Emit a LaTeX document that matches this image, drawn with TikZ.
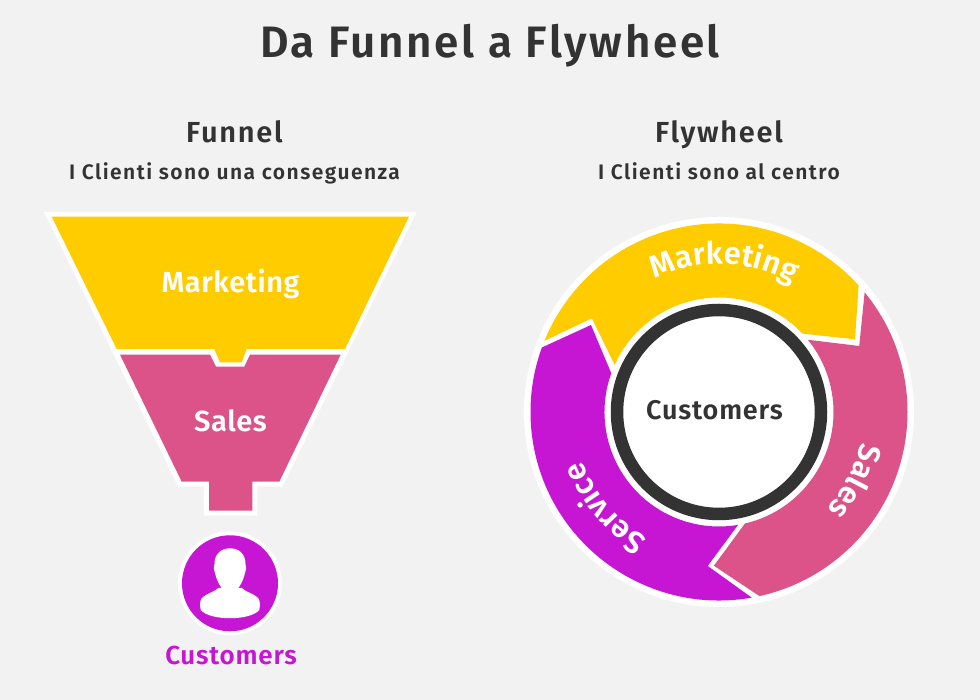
\documentclass[tikz,border=0pt]{standalone}
\usepackage{fontspec}
\setmainfont{Fira Sans}[BoldFont={Fira Sans SemiBold}]
\usetikzlibrary{decorations.text}

\definecolor{bgc}{HTML}{F2F2F2}
\definecolor{mktc}{HTML}{FFCC00}
\definecolor{salesc}{HTML}{DB5389}
\definecolor{servc}{HTML}{C616D3}
\definecolor{darkc}{HTML}{333333}

\begin{document}
\begin{tikzpicture}[
    x=1pt, y=1pt,
    % Styles
    heading/.style={ % Texts over the two pictures
        anchor=base,
        font=\bfseries\fontsize{29}{30}\selectfont\addfontfeature{LetterSpace=6},
        text=darkc
    },
    subheading/.style={ % Line under a heading
        anchor=base,
        font=\bfseries\fontsize{21}{24}\selectfont\addfontfeature{LetterSpace=7},
        text=darkc
    },
    label/.style={ % White text in the funnel
        anchor=base,
        font=\bfseries\fontsize{29}{32}\selectfont\addfontfeature{LetterSpace=2},
        text=white
    },
    arclabel/.style={ % White text along the wheel
        decorate,
        decoration={
            text along path,
            text align=center,
            text color=white,
            text={|\bfseries\fontsize{31}{32}\selectfont|#1}
        }
    }
]
    \useasboundingbox[fill=bgc] (0,0) rectangle (980,700);

    % Titles
    \node[anchor=base, font=\bfseries\fontsize{44}{48}\selectfont\addfontfeature{LetterSpace=6}, text=darkc] (title) at (490,642) {Da Funnel a Flywheel};
    \node[heading] (funnelhead) at (234.5,557) {Funnel};
    \node[subheading] (funnelsub) at (234.5,520) {I Clienti sono una conseguenza};
    \node[heading] (wheelhead) at (719,557) {Flywheel};
    \node[subheading] (wheelsub) at (719,520) {I Clienti sono al centro};

    % Funnel
    \fill[white] (44,488) -- (416.7,488) -- (282.3,213.3) -- (257.3,213.3) -- (257.3,184.3)
        -- (204,184.3) -- (204,213.3) -- (178.3,213.3) -- cycle;
    \fill[mktc] (51.7,483.3) -- (409,483.3) -- (345,351) -- (246.7,351) -- (241.7,337.7)
        -- (220,337.7) -- (214.3,351) -- (116.7,351) -- cycle;
    \fill[salesc] (120,345.3) -- (210,345.3) -- (216,333.3) -- (244.3,333.3) -- (250,345.3)
        -- (340.7,345.3) -- (279.3,218.3) -- (252.3,218.3) -- (252.3,189.3) -- (209,189.3)
        -- (209,218.3) -- (181.7,218.3) -- cycle;
    \node[label] (funnelmkt) at (230.5,407) {Marketing};
    \node[label] (funnelsales) at (230.5,268.3) {Sales};

    % Customer icon
    \fill[white] (230,116.7) circle (52);
    \fill[servc] (230,116.7) circle (48);
    \fill[white] (230,151.7) .. controls (240,151.7) and (245.5,145) .. (245.5,136)
        .. controls (246.5,133) and (246.5,130) .. (245,127)
        .. controls (243,118) and (237,106.7) .. (230,106.7)
        .. controls (223,106.7) and (217,118) .. (215,127)
        .. controls (213.5,130) and (213.5,133) .. (214.5,136)
        .. controls (214.5,145) and (220,151.7) .. (230,151.7) -- cycle;
    \fill[white] (200.7,90) .. controls (199.5,96) and (200,101) .. (203,103)
        .. controls (208,107) and (214,108) .. (218.3,112) -- (241.7,112)
        .. controls (246,108) and (252,107) .. (257,103)
        .. controls (260,101) and (260.5,96) .. (259.3,90)
        .. controls (250,79) and (210,79) .. (200.7,90) -- cycle;
    \node[anchor=base, font=\bfseries\fontsize{26}{28}\selectfont\addfontfeature{LetterSpace=3}, text=servc] (customers) at (231,35) {Customers};

    % Flywheel
    \begin{scope}[shift={(719,288)}]
        \fill[white] (0,0) circle (195);
        % Marketing arrow
        \fill[mktc] (157.8:188.5) arc[start angle=157.8, end angle=42.2, radius=188.5]
            -- (28.1:154.2) -- (43.2:114.5) arc[start angle=43.2, end angle=155.7, radius=114.5]
            -- (143.6:158) -- cycle;
        % Sales arrow
        \fill[salesc] (39.4:188.5) arc[start angle=39.4, end angle=-77.6, radius=188.5]
            -- (-91.9:153.8) -- (-76.9:114.5) arc[start angle=-76.9, end angle=39.1, radius=114.5]
            -- (25.2:155) -- cycle;
        % Service arrow
        \fill[servc] (-80:188.5) arc[start angle=-80, end angle=-200, radius=188.5]
            -- (-214.2:154.8) -- (-199.8:114.5) arc[start angle=-199.8, end angle=-80.4, radius=114.5]
            -- (-94.2:154.4) -- cycle;
        % Texts
        \path[arclabel=Marketing] (133:148) arc[start angle=133, end angle=43, radius=148];
        \path[arclabel=Sales] (18:145) arc[start angle=18, end angle=-72, radius=145];
        \path[arclabel=Service] (-95:145) arc[start angle=-95, end angle=-185, radius=145];
    \end{scope}

    % Customers in the middle
    \node[circle, draw=darkc, line width=12.5pt, fill=white, minimum size=204pt, inner sep=0pt] (hub) at (719,288) {};
    \node[anchor=base, font=\bfseries\fontsize{27}{30}\selectfont\addfontfeature{LetterSpace=3}, text=darkc] (hubtext) at (714.5,280) {Customers};
\end{tikzpicture}
\end{document}
